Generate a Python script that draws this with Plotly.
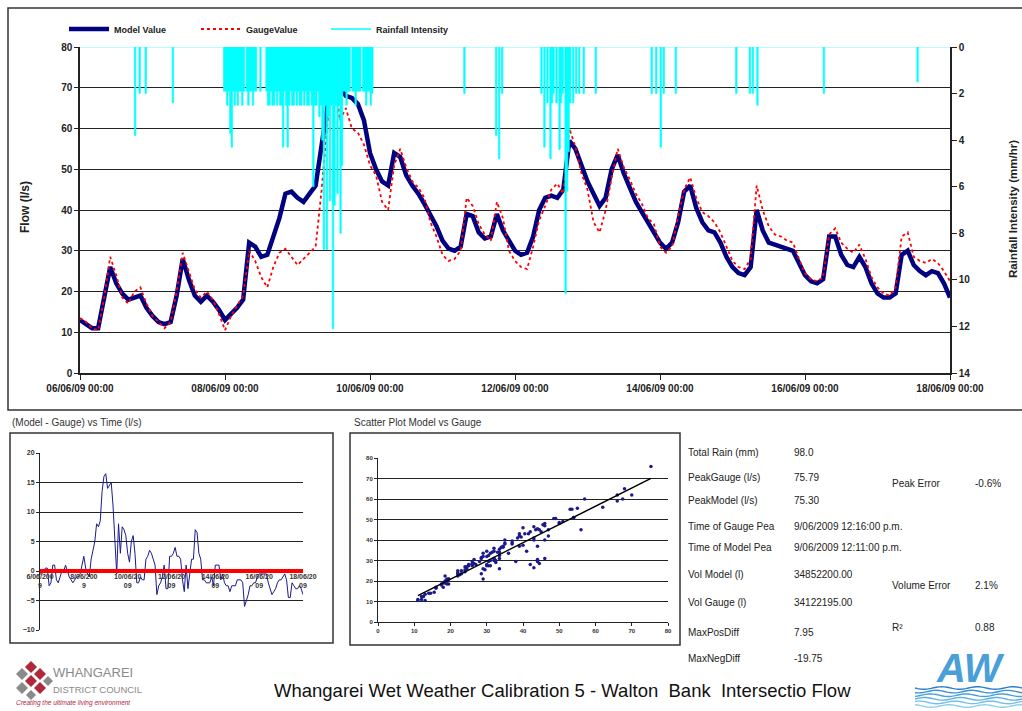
import numpy as np
import plotly.graph_objects as go
from datetime import datetime, timedelta

W, H = 1022, 711
FONT = "Arial, Liberation Sans, sans-serif"

# ---------------- data ----------------
start = datetime(2009, 6, 6)
step_hours = 2
n_days = 12

model_flow = [
    13.0, 12.0, 11.0, 11.0, 19.0, 26.0, 22.0, 19.5, 18.0, 18.5, 19.0, 16.0,
    14.0, 12.5, 12.0, 12.5, 19.0, 28.0, 23.0, 19.0, 17.5, 19.0, 17.5, 15.5,
    13.0, 14.5, 16.0, 18.0, 32.0, 31.0, 28.5, 29.0, 33.5, 38.0, 44.0, 44.5,
    43.0, 42.0, 44.0, 46.0, 56.0, 66.0, 75.3, 70.0, 68.0, 67.5, 66.0, 62.0,
    54.0, 50.0, 47.0, 46.0, 54.0, 53.0, 48.5, 46.0, 44.0, 41.5, 39.0, 36.0,
    32.5, 30.5, 30.0, 31.0, 39.0, 38.5, 34.5, 33.0, 33.5, 39.0, 35.0, 32.5,
    30.0, 29.0, 29.5, 33.5, 40.0, 43.0, 43.5, 43.0, 45.0, 57.0, 55.0, 51.0,
    47.0, 44.0, 41.0, 43.0, 50.0, 53.5, 49.0, 45.5, 42.0, 39.5, 37.0, 34.0,
    32.0, 30.5, 32.0, 37.0, 44.5, 46.0, 40.5, 37.0, 35.0, 34.5, 32.0, 28.5,
    26.0, 24.5, 24.0, 26.0, 40.0, 35.0, 32.0, 31.5, 31.0, 30.5, 30.0, 27.0,
    24.0, 22.5, 22.0, 23.0, 33.5, 33.5, 29.0, 26.5, 26.0, 28.5, 26.0, 22.0,
    19.5, 18.5, 18.5, 19.5, 29.0, 30.0, 26.5, 25.0, 24.0, 25.0, 24.5, 22.0,
    18.5,
]

gauge_flow = [
    13.5, 12.5, 11.0, 10.5, 18.5, 28.5, 24.0, 18.5, 17.0, 20.0, 21.0, 17.0,
    14.0, 12.5, 11.0, 12.5, 20.0, 29.5, 25.0, 20.5, 18.5, 20.0, 18.0, 14.5,
    10.5, 14.0, 16.5, 19.0, 30.0, 27.5, 23.5, 21.0, 26.0, 29.5, 30.5, 28.5,
    26.5, 28.0, 29.5, 31.0, 45.0, 62.0, 75.8, 62.0, 65.0, 60.0, 59.0, 56.0,
    51.0, 48.5, 42.0, 40.0, 51.0, 55.0, 50.5, 47.0, 45.5, 43.0, 37.0, 33.5,
    29.0, 27.5, 28.0, 30.0, 43.0, 41.0, 36.5, 34.0, 32.5, 42.0, 38.0, 30.0,
    27.5, 26.0, 25.5, 31.0, 37.5, 41.0, 45.0, 46.5, 44.0, 60.0, 55.5, 49.0,
    45.0, 37.0, 34.5, 40.0, 48.0, 55.0, 50.5, 47.5, 44.0, 41.5, 38.0, 36.5,
    31.0, 29.5, 31.0, 38.5, 45.0, 48.0, 43.0, 39.5, 38.5, 37.0, 34.5, 31.0,
    27.5, 26.0, 25.5, 28.0, 46.0, 40.0, 36.0, 34.0, 33.5, 32.5, 32.0, 28.0,
    24.5, 23.0, 22.5, 23.5, 34.0, 35.5, 32.0, 30.5, 29.5, 31.5, 28.0, 23.5,
    21.0, 19.5, 19.0, 21.0, 33.5, 34.5, 28.5, 27.5, 27.0, 28.0, 27.0, 25.0,
    22.5,
]

# rainfall (mm/hr): a dense block at 30-minute steps plus isolated bursts
rain_step_hours = 0.5
rain_block_start_hour = 47.5
rain_block_mmhr = [
    1.9, 1.9, 2.5, 1.9, 3.7, 4.3, 1.9, 2.5, 1.9, 2.5, 1.9, 1.9, 2.5, 1.9, 0.0,
    1.9, 2.5, 1.9, 1.9, 2.5, 1.9, 1.9, 0.0, 0.0, 1.9, 0.0, 0.0, 0.0, 1.9,
    2.5, 2.5, 1.9, 2.5, 2.5, 1.9, 2.5, 1.9, 2.5, 2.5, 4.3, 1.9, 2.5, 4.3, 2.5,
    1.9, 2.5, 2.5, 1.9, 2.5, 1.9, 2.5, 2.5, 1.9, 2.5, 1.9, 2.5, 2.5, 1.9, 2.5,
    6.0, 2.5, 2.5, 1.9, 3.0, 2.5,
    4.0, 8.7, 2.5, 8.7, 3.0, 6.6, 2.5, 12.1, 6.8, 2.5, 6.3, 2.5, 8.0, 5.1,
    1.9, 1.9, 2.5, 1.9, 1.9, 0.0, 1.9, 1.9, 2.5, 1.9, 1.9, 1.9, 0.0, 1.9, 1.9,
    2.5, 1.9, 1.9, 2.5, 2.0, 0.0,
]
rain_event_hours = [18.1, 19.7, 21.6, 30.5, 127.2, 137.3, 138.7, 139.7,
                    152.6, 153.5, 154.5, 155.5, 156.0, 156.5, 157.5, 158.5,
                    159.0, 159.5, 160.5, 161.0, 161.5, 162.0, 163.0, 164.0,
                    165.0, 166.5, 170.4, 188.9, 190.3, 192.2, 193.0, 196.8,
                    216.9, 221.3, 222.7, 224.0, 246.2, 277.0]
rain_event_mmhr = [3.8, 2.0, 2.0, 2.4, 2.0, 3.8, 4.8, 2.0,
                   2.0, 4.3, 2.4, 4.8, 2.4, 2.0, 2.4, 4.4,
                   2.4, 2.0, 10.6, 6.2, 4.5, 2.4, 2.4, 2.0,
                   2.0, 2.0, 2.0, 2.0, 2.0, 4.3, 2.0, 2.0,
                   2.0, 2.0, 2.0, 2.5, 2.0, 1.5]

main_tick_days = [0, 2, 4, 6, 8, 10, 12]
diff_tick_text = ["6/06/200<br>9", "8/06/200<br>9", "10/06/20<br>09", "12/06/20<br>09",
                  "14/06/20<br>09", "16/06/20<br>09", "18/06/20<br>09"]

stats_left_labels = ["Total Rain (mm)", "PeakGauge (l/s)", "PeakModel (l/s)", "Time of Gauge Pea",
                     "Time of Model Pea", "Vol Model (l)", "Vol Gauge (l)", "MaxPosDiff", "MaxNegDiff"]
stats_left_values = ["98.0", "75.79", "75.30", "9/06/2009 12:16:00 p.m.", "9/06/2009 12:11:00 p.m.",
                     "34852200.00", "34122195.00", "7.95", "-19.75"]
stats_right_labels = ["Peak Error", "Volume Error", "R²"]
stats_right_values = ["-0.6%", "2.1%", "0.88"]

title_text = "Whangarei Wet Weather Calibration 5 - Walton\u00a0 Bank\u00a0 Intersectio Flow"

# ---------------- derived series ----------------
times = [start + timedelta(hours=step_hours * i) for i in range(len(model_flow))]
end = start + timedelta(days=n_days)
model_arr = np.array(model_flow)
gauge_arr = np.array(gauge_flow)
diff = model_arr - gauge_arr

n_rain = int(n_days * 24 / rain_step_hours) + 1
rain_series = np.zeros(n_rain)
for i, v in enumerate(rain_block_mmhr):
    rain_series[int(round((rain_block_start_hour + i * rain_step_hours) / rain_step_hours))] = v
for h, v in zip(rain_event_hours, rain_event_mmhr):
    rain_series[int(round(h / rain_step_hours))] = v
rain_times = [start + timedelta(hours=rain_step_hours * i) for i in range(n_rain)]

slope, intercept = np.polyfit(model_arr, gauge_arr, 1)
trend_x = np.array([model_arr.min(), model_arr.max()])
trend_y = slope * trend_x + intercept

tick_dates = [start + timedelta(days=d) for d in main_tick_days]

# ---------------- helpers ----------------
def px(x):
    return x / W

def py(y):
    return 1 - y / H

# ---------------- figure ----------------
fig = go.Figure()

fig.add_trace(go.Scatter(x=times, y=model_flow, name="Model Value", mode="lines", legend="legend",
                         line=dict(color="#000080", width=4.5), xaxis="x", yaxis="y"))
fig.add_trace(go.Scatter(x=times, y=gauge_flow, name="GaugeValue", mode="lines", legend="legend2",
                         line=dict(color="#ff0000", width=1.8, dash="dot"), xaxis="x", yaxis="y"))
fig.add_trace(go.Scatter(x=[None], y=[None], name="Rainfall Intensity", mode="lines",
                         legend="legend3",
                         line=dict(color="#00ffff", width=1.5), xaxis="x", yaxis="y2"))
fig.add_trace(go.Scatter(x=rain_times, y=rain_series, mode="lines", showlegend=False,
                         line=dict(color="#00ffff", width=0.6, shape="hv"),
                         fill="tozeroy", fillcolor="#00ffff", xaxis="x", yaxis="y2"))

# difference panel
fig.add_trace(go.Scatter(x=times, y=diff, mode="lines", showlegend=False,
                         line=dict(color="#1a1a8c", width=1), xaxis="x2", yaxis="y3"))
# scatter panel
fig.add_trace(go.Scatter(x=model_arr, y=gauge_arr, mode="markers", showlegend=False,
                         marker=dict(color="#1a1a8c", size=3.5), xaxis="x3", yaxis="y4"))
fig.add_trace(go.Scatter(x=trend_x, y=trend_y, mode="lines", showlegend=False,
                         line=dict(color="#000000", width=1.5), xaxis="x3", yaxis="y4"))

tick_bold = dict(family=FONT, size=10, color="#222", weight="bold")
small_bold = dict(family=FONT, size=7, color="#333", weight="bold")

diff_dom = [py(630), py(453)]
diff_range = [-10, 20]
zero_pos = diff_dom[0] + (0 - diff_range[0]) / (diff_range[1] - diff_range[0]) * (diff_dom[1] - diff_dom[0])

def leg(xpix):
    return dict(orientation="h", x=px(xpix), y=py(29), xanchor="left", yanchor="middle",
                font=dict(family=FONT, size=9, color="#222", weight="bold"),
                bgcolor="rgba(0,0,0,0)", itemwidth=40)

fig.update_layout(
    width=W, height=H, autosize=False,
    margin=dict(l=0, r=0, t=0, b=0, autoexpand=False),
    paper_bgcolor="white", plot_bgcolor="white",
    font=dict(family=FONT, color="#222"),
    showlegend=True,
    legend=leg(64), legend2=leg(196), legend3=leg(326),
    xaxis=dict(domain=[px(80), px(950)], anchor="y", type="date", range=[start, end],
               tickvals=tick_dates, tickformat="%d/%m/%y %H:%M", automargin=False,
               ticks="outside", ticklen=5, tickcolor="#222", tickwidth=1,
               showline=True, linecolor="#222", linewidth=1.5, showgrid=False,
               zeroline=False, tickfont=tick_bold, tickangle=0),
    yaxis=dict(domain=[py(373), py(47)], anchor="x", range=[0, 80], dtick=10, automargin=False,
               showgrid=True, gridcolor="#222", gridwidth=1.3,
               showline=True, linecolor="#222", linewidth=1.5, ticks="outside", ticklen=4,
               tickcolor="#222", zeroline=False, tickfont=tick_bold),
    yaxis2=dict(overlaying="y", side="right", anchor="x", range=[14, 0], dtick=2, automargin=False,
                showgrid=False, showline=True, linecolor="#222", linewidth=1.5,
                ticks="outside", ticklen=5, tickcolor="#222", zeroline=False, tickfont=tick_bold),
    xaxis2=dict(domain=[px(40), px(303)], anchor="free", position=zero_pos, type="date",
                range=[start, end], tickvals=tick_dates, ticktext=diff_tick_text, automargin=False,
                showgrid=False, showline=False, ticks="", zeroline=False,
                tickfont=small_bold, tickangle=0),
    yaxis3=dict(domain=diff_dom, anchor="x2", range=diff_range, dtick=5, automargin=False,
                showgrid=True, gridcolor="#222", gridwidth=1, showline=True, linecolor="#222",
                linewidth=1, ticks="outside", ticklen=3, tickcolor="#222", zeroline=False,
                tickfont=small_bold),
    xaxis3=dict(domain=[px(378), px(668)], anchor="y4", range=[0, 80], dtick=10, automargin=False,
                showgrid=False, showline=True, linecolor="#222", linewidth=1,
                ticks="outside", ticklen=3, tickcolor="#222", zeroline=False,
                tickfont=dict(family=FONT, size=6, color="#333", weight="bold")),
    yaxis4=dict(domain=[py(622), py(458)], anchor="x3", range=[0, 80], dtick=10, automargin=False,
                showgrid=True, gridcolor="#222", gridwidth=1, showline=True, linecolor="#222",
                linewidth=1, ticks="outside", ticklen=3, tickcolor="#222", zeroline=False,
                tickfont=dict(family=FONT, size=6, color="#333", weight="bold")),
)

shapes = []
# red zero line in difference panel
shapes.append(dict(type="line", xref="x2 domain", x0=0, x1=1, yref="y3", y0=0, y1=0,
                   line=dict(color="#ff0000", width=4)))
# panel frames
for (x0, y0, x1, y1) in [(8, 8, 1040, 410), (10, 433, 333, 643), (350, 433, 680, 645)]:
    shapes.append(dict(type="rect", xref="paper", yref="paper", x0=px(x0), x1=px(x1),
                       y0=py(y1), y1=py(y0), line=dict(color="#333", width=1.5),
                       fillcolor="rgba(0,0,0,0)", layer="below"))

# Whangarei District Council logo (decorative)
def diamond(cx, cy, s, color):
    p = (f"M {px(cx)},{py(cy - s)} L {px(cx + s)},{py(cy)} L {px(cx)},{py(cy + s)} "
         f"L {px(cx - s)},{py(cy)} Z")
    return dict(type="path", xref="paper", yref="paper", path=p, fillcolor=color,
                line=dict(color=color, width=0))

for (cx, cy, s, c) in [(22, 674, 6, "#8a8a8a"), (22, 688, 6, "#8a8a8a"),
                       (31, 667, 6, "#b0283a"), (31, 681, 6, "#b0283a"), (31, 695, 5, "#8a8a8a"),
                       (40, 674, 6, "#b0283a"), (40, 688, 6, "#b0283a"), (48, 681, 5, "#8a8a8a")]:
    shapes.append(diamond(cx, cy, s, c))

# AW logo waves (decorative)
for j, col in enumerate(["#2f7fc8", "#3b8fd4", "#4aa0dc", "#5cb0e4", "#74c0ea", "#8ccff0"]):
    y0 = 688 + j * 3.6
    pts = []
    for i in range(0, 41):
        xx = 915 + i * (107 / 40)
        yy = y0 + 1.3 * np.sin(i / 40 * 6 * np.pi + j)
        pts.append(f"{px(xx):.5f},{py(yy):.5f}")
    shapes.append(dict(type="path", xref="paper", yref="paper",
                       path="M " + " L ".join(pts), line=dict(color=col, width=1.4)))

fig.update_layout(shapes=shapes)

ann = []
ann.append(dict(text="<b>Flow (l/s)</b>", x=px(25), y=py(207), xref="paper", yref="paper",
                xanchor="center", yanchor="middle",
                showarrow=False, textangle=-90, font=dict(family=FONT, size=12, color="#222")))
ann.append(dict(text="<b>Rainfall Intensity (mm/hr)</b>", x=px(1013), y=py(209), xref="paper",
                yref="paper", xanchor="center", yanchor="middle", showarrow=False, textangle=-90,
                font=dict(family=FONT, size=11.5, color="#222")))
ann.append(dict(text="(Model - Gauge) vs Time (l/s)", x=px(10), y=py(422), xref="paper",
                yref="paper", xanchor="left", yanchor="middle", showarrow=False,
                font=dict(family=FONT, size=10, color="#333")))
ann.append(dict(text="Scatter Plot Model vs Gauge", x=px(352), y=py(422), xref="paper",
                yref="paper", xanchor="left", yanchor="middle", showarrow=False,
                font=dict(family=FONT, size=10, color="#333")))

stats_left_y = [452, 477, 500, 526, 547, 574, 602, 632, 658]
stats_right_y = [483, 585, 627]
sfont = dict(family=FONT, size=10, color="#222")
for lab, val, yy in zip(stats_left_labels, stats_left_values, stats_left_y):
    ann.append(dict(text=lab, x=px(686), y=py(yy), xref="paper", yref="paper", xanchor="left",
                    yanchor="middle", showarrow=False, font=sfont))
    ann.append(dict(text=val, x=px(792), y=py(yy), xref="paper", yref="paper", xanchor="left",
                    yanchor="middle", showarrow=False, font=sfont))
for lab, val, yy in zip(stats_right_labels, stats_right_values, stats_right_y):
    ann.append(dict(text=lab, x=px(890), y=py(yy), xref="paper", yref="paper", xanchor="left",
                    yanchor="middle", showarrow=False, font=sfont))
    ann.append(dict(text=val, x=px(973), y=py(yy), xref="paper", yref="paper", xanchor="left",
                    yanchor="middle", showarrow=False, font=sfont))

ann.append(dict(text=title_text, x=px(562), y=py(690), xref="paper", yref="paper",
                xanchor="center", yanchor="middle", showarrow=False,
                font=dict(family=FONT, size=18.5, color="#111")))

# logo texts
ann.append(dict(text="WHANGAREI", x=px(51), y=py(672), xref="paper", yref="paper", xanchor="left",
                yanchor="middle", showarrow=False, font=dict(family=FONT, size=13, color="#8a8a8a")))
ann.append(dict(text="DISTRICT COUNCIL", x=px(51), y=py(689), xref="paper", yref="paper",
                xanchor="left", yanchor="middle", showarrow=False,
                font=dict(family=FONT, size=9.5, color="#8a8a8a")))
ann.append(dict(text="<i>Creating the ultimate living environment</i>", x=px(14), y=py(703),
                xref="paper", yref="paper", xanchor="left", yanchor="middle", showarrow=False,
                font=dict(family=FONT, size=6.5, color="#b0283a")))
ann.append(dict(text="<b><i>AW</i></b>", x=px(970), y=py(668), xref="paper", yref="paper",
                xanchor="center", yanchor="middle", showarrow=False,
                font=dict(family=FONT, size=40, color="#4a9fd8")))

fig.update_layout(annotations=ann)

fig.write_html("out.html", config={"displayModeBar": False},
               post_script="document.body.style.margin='0px';"
                           "document.body.style.overflow='hidden';"
                           "document.documentElement.style.overflow='hidden';")
